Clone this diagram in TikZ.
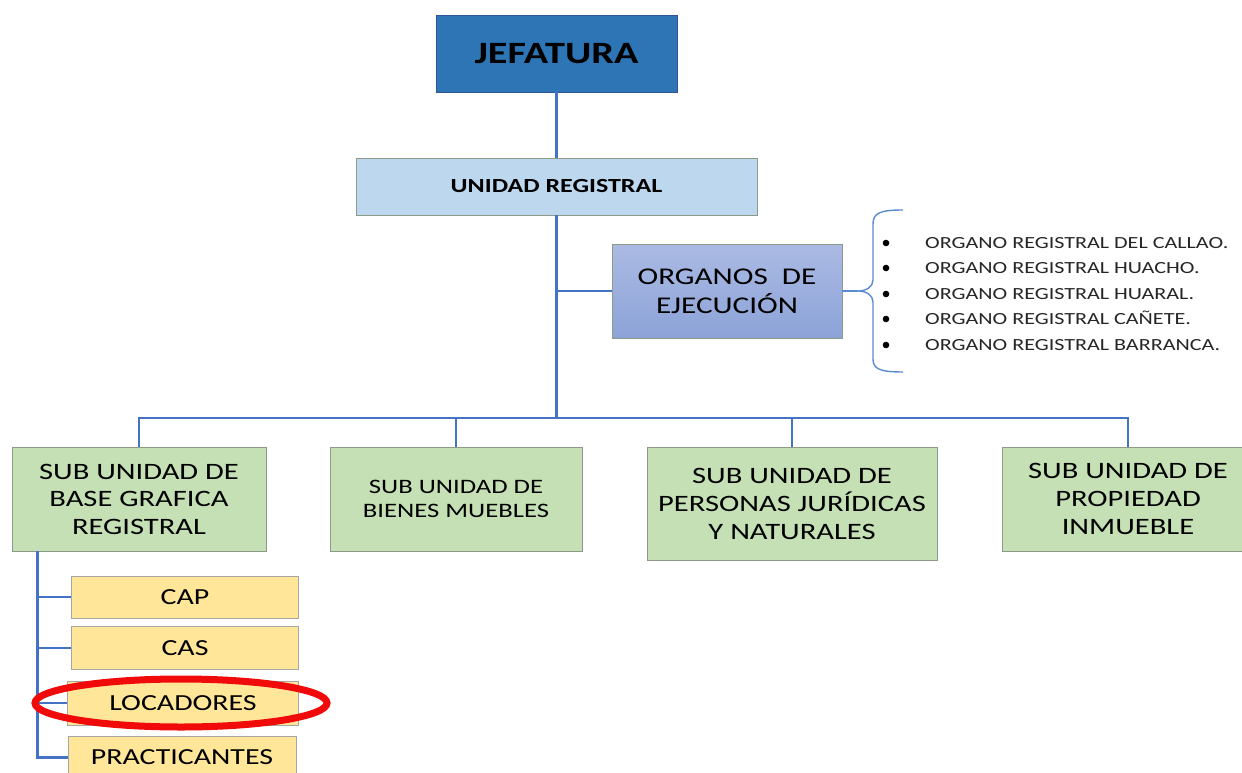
\documentclass[tikz,border=0pt]{standalone}
\usepackage{fontspec}
\setmainfont{Carlito}[FakeStretch=1.3]
\usetikzlibrary{calc}
\definecolor{jefblue}{HTML}{2E75B6}
\definecolor{jefborder}{HTML}{2F5597}
\definecolor{urblue}{HTML}{BDD7EE}
\definecolor{oetop}{HTML}{ABBAE3}
\definecolor{oebot}{HTML}{8CA3D8}
\definecolor{subgreen}{HTML}{C5E0B4}
\definecolor{subborder}{HTML}{8E9A88}
\definecolor{yel}{HTML}{FFE699}
\definecolor{yelborder}{HTML}{A6A6A6}
\definecolor{conncol}{HTML}{4472C4}
\definecolor{bracecol}{HTML}{5B8BD0}
\definecolor{listtext}{HTML}{262626}
\definecolor{hlred}{HTML}{F00A0A}
\begin{document}
\begin{tikzpicture}[x=1pt,y=-1pt,
  box/.style={draw, rectangle, inner sep=0pt, align=center, line width=0.9pt},
  subbox/.style={box, fill=subgreen, draw=subborder},
  yelbox/.style={box, fill=yel, draw=yelborder, font=\fontsize{23}{27}\selectfont},
  conn/.style={draw=conncol, line width=2.5pt},
  listitem/.style={anchor=base west, inner sep=0pt, text=listtext, font=\fontsize{17}{20}\selectfont},
  hl/.style={draw=hlred, line width=7pt}]
\useasboundingbox (0,0) rectangle (1242,773);
\fill[white] (0,0) rectangle (1242,773);

% nodes
\node[box, fill=jefblue, draw=jefborder, minimum width=241pt, minimum height=77pt,
      font=\bfseries\fontsize{31}{36}\selectfont] (jef) at (556.5,53.5) {JEFATURA};
\node[box, fill=urblue, draw=subborder, minimum width=401pt, minimum height=57pt,
      font=\bfseries\fontsize{20}{24}\selectfont] (ur) at (556.5,186.5) {UNIDAD REGISTRAL};
\node[box, top color=oetop, bottom color=oebot, draw=subborder, minimum width=230pt, minimum height=94pt,
      font=\fontsize{24}{29}\selectfont] (oe) at (727,291) {ORGANOS\ \ DE\\EJECUCIÓN};

\node[subbox, minimum width=254pt, minimum height=104pt, font=\fontsize{23.5}{27.5}\selectfont]
  (sub1) at (139,499) {SUB UNIDAD DE\\BASE GRAFICA\\REGISTRAL};
\node[subbox, minimum width=252pt, minimum height=104pt, font=\fontsize{20.5}{24}\selectfont]
  (sub2) at (456,499) {SUB UNIDAD DE\\BIENES MUEBLES};
\node[subbox, minimum width=290pt, minimum height=113pt, font=\fontsize{23.5}{28}\selectfont]
  (sub3) at (792,503.5) {SUB UNIDAD DE\\PERSONAS JURÍDICAS\\Y NATURALES};
\node[subbox, minimum width=252pt, minimum height=104pt, font=\fontsize{23.5}{28}\selectfont]
  (sub4) at (1128,499) {SUB UNIDAD DE\\PROPIEDAD\\INMUEBLE};

\node[yelbox, minimum width=227pt, minimum height=42pt] (cap) at (185,597) {CAP};
\node[yelbox, minimum width=227pt, minimum height=43pt] (cas) at (185,648) {CAS};
\node[yelbox, minimum width=231pt, minimum height=44pt] (loc) at (183,703) {LOCADORES};
\node[yelbox, minimum width=228pt, minimum height=43pt] (prac) at (182,757.5) {PRACTICANTES};

% list
\node[listitem] (li1) at (925,248.5) {ORGANO REGISTRAL DEL CALLAO.};
\node[listitem] (li2) at (925,273.5) {ORGANO REGISTRAL HUACHO.};
\node[listitem] (li3) at (925,299.5) {ORGANO REGISTRAL HUARAL.};
\node[listitem] (li4) at (925,324.5) {ORGANO REGISTRAL CAÑETE.};
\node[listitem] (li5) at (925,350.5) {ORGANO REGISTRAL BARRANCA.};
\foreach \yy in {243,268,294,319,345} \fill[black] (886,\yy) circle[radius=3.3pt];

% brace
\coordinate (tip) at (858,291);
\draw[bracecol, line width=1.4pt]
  (903,210) .. controls (880,210) and (873,213) .. (873,224)
  -- (873,280) .. controls (873,287) and (866,291) .. (tip)
  .. controls (866,291) and (873,295) .. (873,302)
  -- (873,359) .. controls (873,369) and (880,372) .. (903,372);
\draw[bracecol, line width=1.4pt] (oe.east) -- (tip);

% connectors
\coordinate (bus) at (556.5,418);
\draw[conn] (jef.south) -- (ur.north);
\draw[conn] (ur.south) -- (bus);
\draw[conn] (oe.west) -- (oe.west -| ur.south);
\draw[conn] (sub1.north) |- (bus) -| (sub4.north);
\draw[conn] (sub2.north) -- (sub2.north |- bus);
\draw[conn] (sub3.north) -- (sub3.north |- bus);

\coordinate (lv) at ([xshift=26pt]sub1.south west);
\draw[conn] (lv) |- (prac.west);
\draw[conn] (lv |- cap.west) -- (cap.west);
\draw[conn] (lv |- cas.west) -- (cas.west);
\draw[conn] (lv |- loc.west) -- (loc.west);

% highlight
\draw[hl] (181,703) ellipse [x radius=146pt, y radius=24pt];
\end{tikzpicture}
\end{document}
